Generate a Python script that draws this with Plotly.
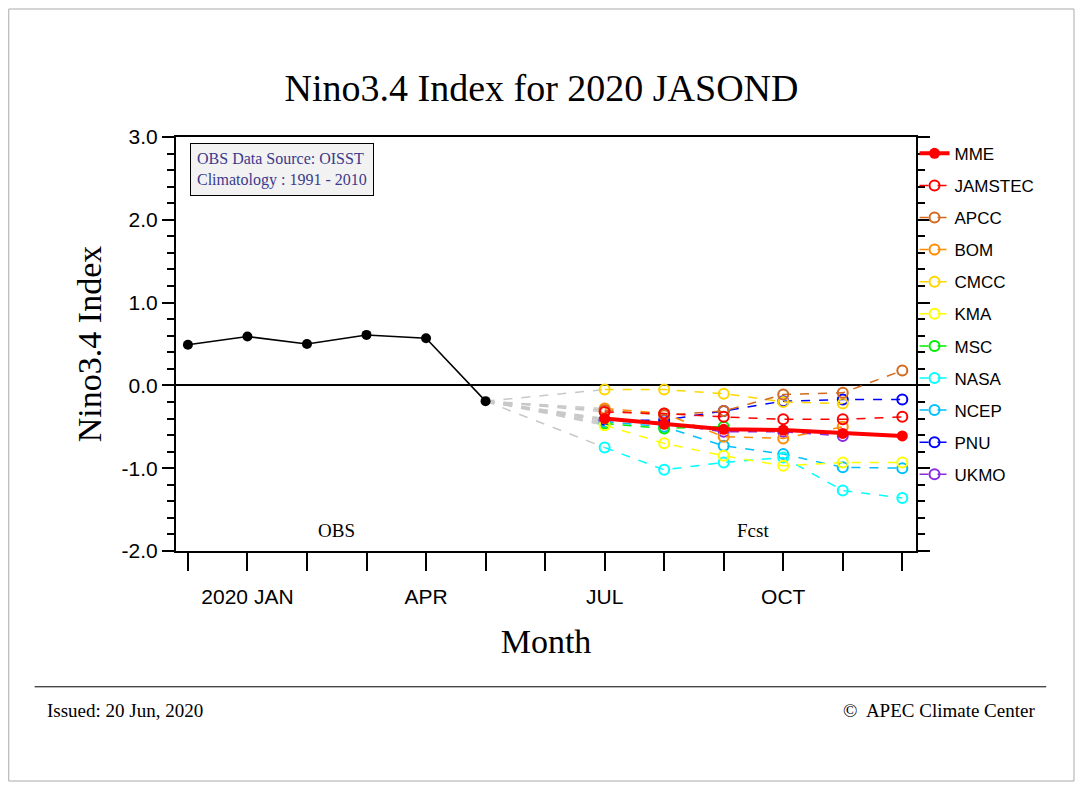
import plotly.graph_objects as go

# month index: 0 = Dec 2019 ... 12 = Dec 2020
obs_x = [0, 1, 2, 3, 4, 5]
obs_y = [0.49, 0.59, 0.50, 0.61, 0.57, -0.19]

fc_x = [7, 8, 9, 10, 11, 12]
models = ["MME", "JAMSTEC", "APCC", "BOM", "CMCC", "KMA", "MSC", "NASA", "NCEP", "PNU", "UKMO"]
colors = ["#ff0000", "#ff0000", "#d2691e", "#ff8c00", "#ffd700", "#ffff00", "#00ee00",
          "#00ffff", "#00bfff", "#0000ff", "#8a2be2"]
values = {
    "MME":     [-0.40, -0.47, -0.53, -0.54, -0.58, -0.61],
    "JAMSTEC": [-0.32, -0.34, -0.38, -0.41, -0.41, -0.38],
    "APCC":    [-0.30, -0.36, -0.31, -0.11, -0.09, 0.18],
    "BOM":     [-0.28, -0.34, -0.62, -0.64, -0.50, None],
    "CMCC":    [-0.05, -0.05, -0.10, -0.20, -0.22, None],
    "KMA":     [-0.48, -0.70, -0.85, -0.97, -0.93, -0.93],
    "MSC":     [-0.46, -0.52, -0.50, None, None, None],
    "NASA":    [-0.75, -1.02, -0.93, -0.87, -1.27, -1.36],
    "NCEP":    [-0.44, -0.50, -0.73, -0.83, -0.99, -1.00],
    "PNU":     [-0.42, -0.42, -0.31, -0.19, -0.17, -0.17],
    "UKMO":    [-0.42, -0.46, -0.56, -0.56, -0.61, None],
}
tick_vals = [1, 4, 7, 10]
tick_text = ["2020 JAN", "APR", "JUL", "OCT"]

fig = go.Figure()

# gray connectors from last obs to first forecast month
for m in models:
    fig.add_trace(go.Scatter(x=[obs_x[-1], fc_x[0]], y=[obs_y[-1], values[m][0]], mode="lines",
                             line=dict(color="#c8c8c8", width=1.5, dash="dash"),
                             showlegend=False, hoverinfo="skip"))

fig.add_trace(go.Scatter(x=obs_x, y=obs_y, mode="lines+markers", showlegend=False,
                         line=dict(color="black", width=1.5),
                         marker=dict(color="black", size=10)))

# draw models back to front, MME on top; legendrank keeps the legend order
for i, (m, c) in reversed(list(enumerate(zip(models, colors)))):
    if m == "MME":
        fig.add_trace(go.Scatter(x=fc_x, y=values[m], mode="lines+markers", name=m, legendgroup=m,
                                 legendrank=i + 1,
                                 line=dict(color=c, width=4), marker=dict(color=c, size=11)))
    else:
        fig.add_trace(go.Scatter(x=fc_x, y=values[m], mode="lines+markers", name=m, legendgroup=m,
                                 legendrank=i + 1,
                                 line=dict(color=c, width=1.5, dash="dash"),
                                 marker=dict(symbol="circle-open", color=c, size=10,
                                             line=dict(width=2))))

fig.update_layout(
    width=1067, height=774,
    paper_bgcolor="white", plot_bgcolor="white",
    margin=dict(l=168, r=159, t=129, b=231),
    title=dict(text="Nino3.4 Index for 2020 JASOND", x=0.5, xanchor="center", y=0.897,
               yanchor="middle", font=dict(family="Liberation Serif", size=38, color="black")),
    font=dict(family="Liberation Sans", color="black"),
    showlegend=True,
    legend=dict(x=0.998, y=1.003, xanchor="left", yanchor="top", traceorder="grouped",
                font=dict(size=17, family="Liberation Sans"), tracegroupgap=7,
                itemwidth=30, bgcolor="rgba(0,0,0,0)"),
    xaxis=dict(range=[-0.2, 12.23], tickmode="array", tickvals=tick_vals, ticktext=tick_text,
               showgrid=False, zeroline=False, showline=True, linecolor="black", linewidth=2,
               mirror=True, ticks="outside", ticklen=18, tickwidth=2, tickcolor="black",
               tickfont=dict(size=21), ticklabelstandoff=8,
               minor=dict(tickmode="array", tickvals=list(range(0, 13)), ticks="outside",
                          ticklen=18, tickwidth=2, tickcolor="black"),
               title=dict(text="Month", font=dict(family="Liberation Serif", size=34), standoff=22)),
    yaxis=dict(range=[-2.0, 3.0], tickmode="array", tickvals=[-2, -1, 0, 1, 2, 3],
               ticktext=["-2.0", "-1.0", "0.0", "1.0", "2.0", "3.0"],
               showgrid=False, zeroline=True, zerolinecolor="black", zerolinewidth=1.5,
               showline=True, linecolor="black", linewidth=2, mirror="ticks",
               ticks="outside", ticklen=12, tickwidth=2, tickcolor="black", tickfont=dict(size=21),
               minor=dict(dtick=0.2, ticks="outside", ticklen=7, tickwidth=1.5, tickcolor="black"),
               title=dict(text="Nino3.4 Index", font=dict(family="Liberation Serif", size=34), standoff=10)),
)

fig.add_annotation(xref="paper", yref="paper", x=0.019, y=0.985, xanchor="left", yanchor="top",
                   text="OBS Data Source: OISST<br>Climatology : 1991 - 2010", align="left",
                   showarrow=False, bgcolor="#f2f2f2", bordercolor="black", borderwidth=1, borderpad=6,
                   font=dict(family="Liberation Serif", size=16, color="#3a3a8c"))
fig.add_annotation(x=2.5, y=-1.75, text="OBS", showarrow=False,
                   font=dict(family="Liberation Serif", size=19, color="black"))
fig.add_annotation(x=9.5, y=-1.75, text="Fcst", showarrow=False,
                   font=dict(family="Liberation Serif", size=19, color="black"))
fig.add_shape(type="line", xref="paper", yref="paper", x0=-0.191, x1=1.176, y0=-0.328, y1=-0.328,
              line=dict(color="black", width=1))
fig.add_annotation(xref="paper", yref="paper", x=-0.177, y=-0.416, xanchor="left", text="Issued: 20 Jun, 2020",
                   showarrow=False, font=dict(family="Liberation Serif", size=19, color="black"))
fig.add_annotation(xref="paper", yref="paper", x=1.163, y=-0.416, xanchor="right", text="©  APEC Climate Center",
                   showarrow=False, font=dict(family="Liberation Serif", size=19, color="black"))
fig.add_shape(type="rect", xref="paper", yref="paper", x0=-0.226, x1=1.2135, y0=-0.5556, y1=1.3092,
              line=dict(color="#aaaaaa", width=1))

fig.write_html("out.html")
